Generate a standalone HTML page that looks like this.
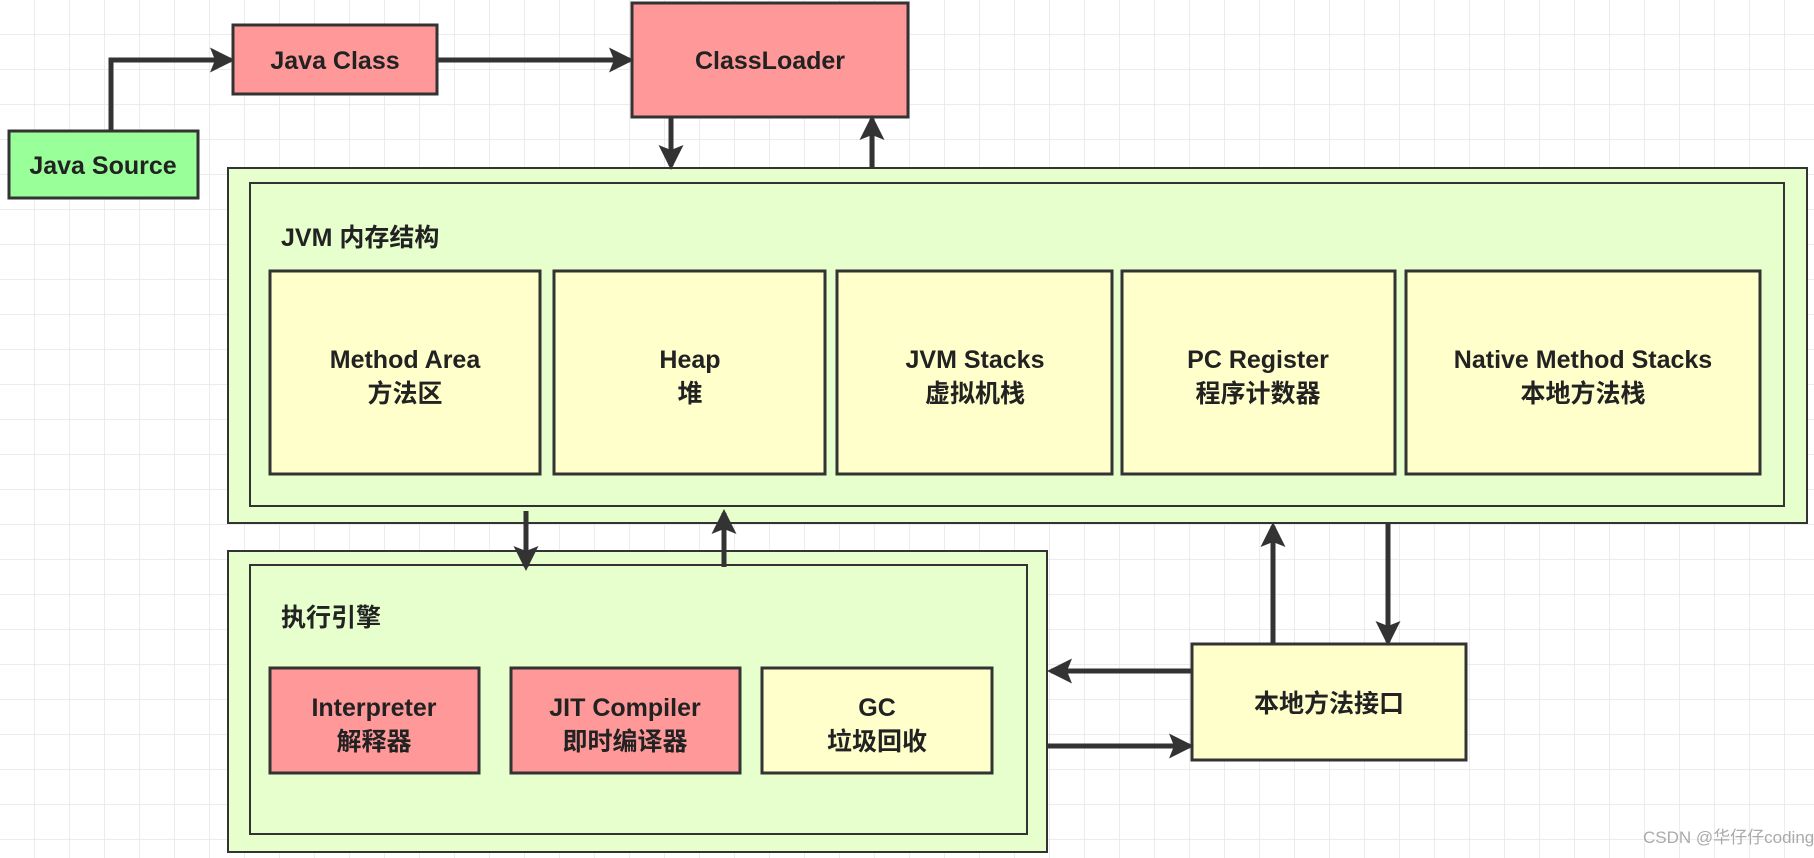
<!DOCTYPE html>
<html><head><meta charset="utf-8"><style>
html,body{margin:0;padding:0;background:#fff;}
svg{display:block;}
text{font-family:"Liberation Sans","Noto Sans CJK SC",sans-serif;font-weight:bold;fill:#222;font-size:25px;}
</style></head><body>
<svg width="1814" height="858" viewBox="0 0 1814 858" xmlns="http://www.w3.org/2000/svg">
<defs>
<pattern id="g" width="35" height="35" patternUnits="userSpaceOnUse">
<path d="M35 0V35M0 35H35" fill="none" stroke="#e6e6e6" stroke-width="1.5"/>
</pattern>
<marker id="a" markerWidth="5" markerHeight="5" refX="4.2" refY="2.5" orient="auto" markerUnits="strokeWidth">
<path d="M0,0L5,2.5L0,5L1,2.5z" fill="#333"/>
</marker>
</defs>
<rect width="1814" height="858" fill="url(#g)"/>
<g stroke="#333" stroke-width="3">
<rect x="9" y="131" width="189" height="67" fill="#99ff99"/>
<rect x="233" y="25" width="204" height="69" fill="#ff9999"/>
<rect x="632" y="3" width="276" height="114" fill="#ff9999"/>
<rect x="228" y="168" width="1579" height="355" fill="#e6ffcc" stroke-width="2"/>
<rect x="250" y="183" width="1534" height="323" fill="#e6ffcc" stroke-width="2"/>
<rect x="270" y="271" width="270" height="203" fill="#ffffcc"/>
<rect x="554" y="271" width="271" height="203" fill="#ffffcc"/>
<rect x="837" y="271" width="275" height="203" fill="#ffffcc"/>
<rect x="1122" y="271" width="273" height="203" fill="#ffffcc"/>
<rect x="1406" y="271" width="354" height="203" fill="#ffffcc"/>
<rect x="228" y="551" width="819" height="301" fill="#e6ffcc" stroke-width="2"/>
<rect x="250" y="565" width="777" height="269" fill="#e6ffcc" stroke-width="2"/>
<rect x="270" y="668" width="209" height="105" fill="#ff9999"/>
<rect x="511" y="668" width="229" height="105" fill="#ff9999"/>
<rect x="762" y="668" width="230" height="105" fill="#ffffcc"/>
<rect x="1192" y="644" width="274" height="116" fill="#ffffcc"/>
</g>
<g stroke="#333" stroke-width="5" fill="none" marker-end="url(#a)">
<path d="M111 131V60H231"/>
<path d="M437 60H630"/>
<path d="M671 117V166"/>
<path d="M872 168V119"/>
<path d="M526 511V567"/>
<path d="M724 567V513"/>
<path d="M1273 644V526"/>
<path d="M1388 523V642"/>
<path d="M1192 671H1051"/>
<path d="M1047 746H1190"/>
</g>
<g text-anchor="middle">
<text x="103" y="174">Java Source</text>
<text x="335" y="69">Java Class</text>
<text x="770" y="69">ClassLoader</text>
<text x="405" y="368">Method Area</text><text x="405" y="402">方法区</text>
<text x="690" y="368">Heap</text><text x="690" y="402">堆</text>
<text x="975" y="368">JVM Stacks</text><text x="975" y="402">虚拟机栈</text>
<text x="1258" y="368">PC Register</text><text x="1258" y="402">程序计数器</text>
<text x="1583" y="368">Native Method Stacks</text><text x="1583" y="402">本地方法栈</text>
<text x="374" y="716">Interpreter</text><text x="374" y="750">解释器</text>
<text x="625" y="716">JIT Compiler</text><text x="625" y="750">即时编译器</text>
<text x="877" y="716">GC</text><text x="877" y="750">垃圾回收</text>
<text x="1329" y="712">本地方法接口</text>
</g>
<text x="281" y="246">JVM 内存结构</text>
<text x="281" y="626">执行引擎</text>
<text x="1643" y="843" style="font-weight:normal;font-size:17px;fill:#aaa">CSDN @华仔仔coding</text>
</svg>
</body></html>
